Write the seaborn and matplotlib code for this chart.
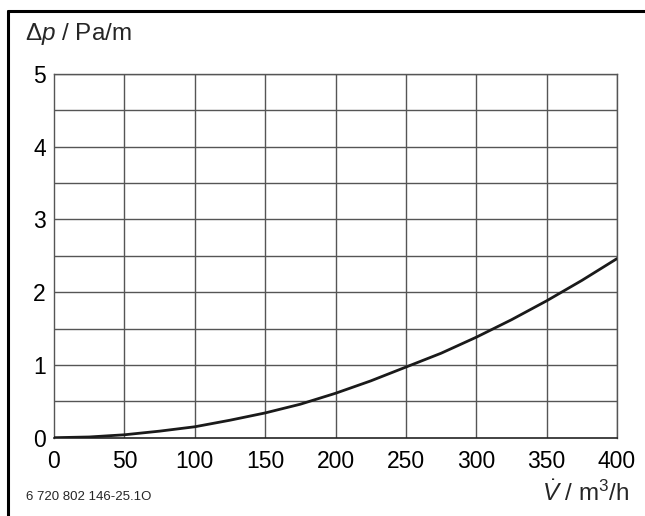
import numpy as np
import pandas as pd
import matplotlib
matplotlib.use("Agg")
import matplotlib.pyplot as plt
import seaborn as sns
from matplotlib.lines import Line2D

# volume flow (m3/h) and pressure drop (Pa/m)
flow = [0, 25, 50, 75, 100, 125, 150, 175, 200, 225, 250, 275, 300, 325, 350, 375, 400]
dp = [0.0, 0.01, 0.04, 0.09, 0.15, 0.24, 0.34, 0.46, 0.61, 0.78, 0.97, 1.16, 1.38, 1.62, 1.88, 2.16, 2.46]
xticks = [0, 50, 100, 150, 200, 250, 300, 350, 400]
yticks = [0, 1, 2, 3, 4, 5]
ygrid = [0.5, 1, 1.5, 2, 2.5, 3, 3.5, 4, 4.5, 5]
code = "6 720 802 146-25.1O"

sns.set_style("white")
plt.rcParams['font.family'] = ['Liberation Sans', 'DejaVu Sans']
plt.rcParams['mathtext.fontset'] = 'custom'
plt.rcParams['mathtext.rm'] = 'Liberation Sans'
plt.rcParams['mathtext.it'] = 'Liberation Sans:italic'

df = pd.DataFrame({"flow": flow, "dp": dp})

fig = plt.figure(figsize=(6.45, 5.16), dpi=100)
ax = fig.add_axes([54 / 645, 1 - 437.7 / 516, (617 - 54) / 645, (437.7 - 73.7) / 516])

for x in xticks[1:]:
    ax.axvline(x, color="#555555", lw=1.0, zorder=1)
for y in ygrid:
    ax.axhline(y, color="#555555", lw=1.0, zorder=1)

sns.lineplot(data=df, x="flow", y="dp", ax=ax, color="#1a1a1a", lw=2.0, zorder=3)

ax.set_xlim(0, 400)
ax.set_ylim(0, 5)
ax.set_xticks(xticks)
ax.set_yticks(yticks)
ax.tick_params(axis="both", length=0, labelsize=16.5, colors="black")
ax.tick_params(axis="x", pad=9)
ax.tick_params(axis="y", pad=6)
ax.set_xlabel("")
ax.set_ylabel("")
for side in ["top", "right", "left"]:
    ax.spines[side].set_color("#555555")
    ax.spines[side].set_linewidth(1.0)
ax.spines["bottom"].set_color("#222222")
ax.spines["bottom"].set_linewidth(1.2)

fig.text(25 / 645, 1 - 34 / 516, r"$\Delta\mathit{p}$ / Pa/m", fontsize=17.5, va="center", ha="left")
fig.text(630 / 645, 1 - 501 / 516, r"$\dot{\mathit{V}}$ / m$^3$/h", fontsize=17.5, va="baseline", ha="right")
fig.text(26 / 645, 1 - 500 / 516, code, fontsize=9.5, va="baseline", ha="left")

# frame on top and left
fig.add_artist(Line2D([8 / 645, 1.0], [1 - 11 / 516, 1 - 11 / 516], color="black", lw=2.2, transform=fig.transFigure))
fig.add_artist(Line2D([8 / 645, 8 / 645], [0.0, 1 - 11 / 516], color="black", lw=2.2, transform=fig.transFigure))

fig.savefig("out.png", dpi=100)
